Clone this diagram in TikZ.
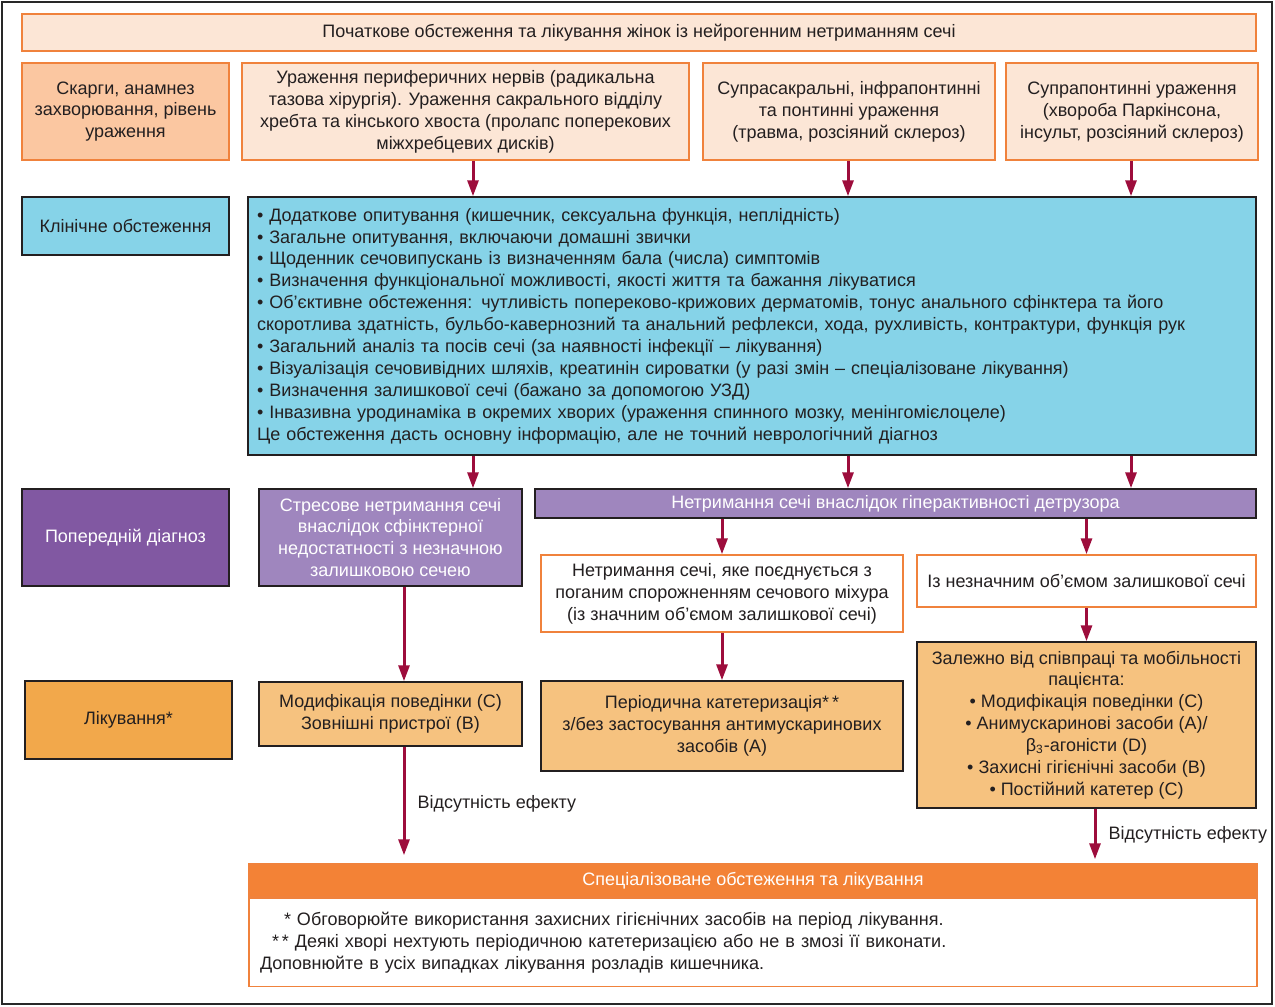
\documentclass[tikz,border=0pt]{standalone}
\usepackage{fontspec}
\setmainfont{Liberation Sans}
\usetikzlibrary{arrows.meta}
\definecolor{edgeorange}{RGB}{240,130,60}
\definecolor{peach}{RGB}{252,230,214}
\definecolor{salmon}{RGB}{251,199,161}
\definecolor{skyblue}{RGB}{134,211,232}
\definecolor{darkviolet}{RGB}{129,88,162}
\definecolor{lightviolet}{RGB}{159,134,190}
\definecolor{treatorange}{RGB}{242,168,75}
\definecolor{lightorange}{RGB}{246,194,127}
\definecolor{headorange}{RGB}{243,130,54}
\definecolor{arrowred}{RGB}{157,13,60}
\definecolor{inkgray}{RGB}{35,31,32}
\definecolor{framegray}{RGB}{40,40,40}

\begin{document}
\begin{tikzpicture}[x=0.5pt, y=-0.5pt,
  every node/.style={font=\fontsize{9}{10.95}\selectfont, text=inkgray},
  box/.style={draw=edgeorange, line width=0.75pt, fill=peach, align=center,
    inner sep=0pt},
  clin/.style={draw=inkgray, line width=0.75pt, fill=skyblue, align=center,
    inner sep=0pt},
  diag/.style={draw=inkgray, line width=0.75pt, fill=lightviolet, align=center,
    inner sep=0pt, text=white},
  treat/.style={draw=inkgray, line width=0.75pt, fill=lightorange, align=center,
    inner sep=0pt},
  arr/.style={-{Triangle[length=8pt, width=5.5pt]}, line width=1.5pt, arrowred},
  noeffect/.style={midway, anchor=west, inner sep=0pt, xshift=6pt, yshift=0.5pt},
]
  \useasboundingbox (0,0) rectangle (1275,1007);
  \draw[framegray, line width=1pt] (2,2) rectangle (1272,1004);

  \node[box, minimum width=617pt, minimum height=18.5pt] (title) at (639,32.5)
    {Початкове обстеження та лікування жінок із нейрогенним нетриманням сечі};

  \node[box, fill=salmon, minimum width=103.5pt, minimum height=48.5pt] (complaints) at (125.5,111.5)
    {Скарги, анамнез\\захворювання, рівень\\ураження};
  \node[box, minimum width=223.5pt, minimum height=48.5pt] (periph) at (465.5,111.5)
    {Ураження периферичних нервів (радикальна\\тазова хірургія). Ураження сакрального відділу\\хребта та кінського хвоста (пролапс поперекових\\міжхребцевих дисків)};
  \node[box, minimum width=146pt, minimum height=48.5pt] (suprasacral) at (849,111.5)
    {Супрасакральні, інфрапонтинні\\та понтинні ураження\\(травма, розсіяний склероз)};
  \node[box, minimum width=126pt, minimum height=48.5pt] (suprapontine) at (1132,111.5)
    {Супрапонтинні ураження\\(хвороба Паркінсона,\\інсульт, розсіяний склероз)};

  \node[clin, minimum width=103.5pt, minimum height=29pt] (clinlabel) at (125.5,226)
    {Клінічне обстеження};
  \node[clin, minimum width=504pt, minimum height=129pt, text width=495pt,
    align=left, inner xsep=4.5pt] (clinbox) at (752,326)
    {• Додаткове опитування (кишечник, сексуальна функція, неплідність)\\
     • Загальне опитування, включаючи домашні звички\\
     • Щоденник сечовипускань із визначенням бала (числа) симптомів\\
     • Визначення функціональної можливості, якості життя та бажання лікуватися\\
     • Об’єктивне обстеження: чутливість попереково-крижових дерматомів, тонус анального сфінктера та його\\
     скоротлива здатність, бульбо-кавернозний та анальний рефлекси, хода, рухливість, контрактури, функція рук\\
     • Загальний аналіз та посів сечі (за наявності інфекції – лікування)\\
     • Візуалізація сечовивідних шляхів, креатинін сироватки (у разі змін – спеціалізоване лікування)\\
     • Визначення залишкової сечі (бажано за допомогою УЗД)\\
     • Інвазивна уродинаміка в окремих хворих (ураження спинного мозку, менінгомієлоцеле)\\
     Це обстеження дасть основну інформацію, але не точний неврологічний діагноз};

  \node[diag, fill=darkviolet, minimum width=103.5pt, minimum height=48.5pt] (prelim) at (125.5,537.5)
    {Попередній діагноз};
  \node[diag, minimum width=131.5pt, minimum height=48.5pt] (stress) at (390.5,537.5)
    {Стресове нетримання сечі\\внаслідок сфінктерної\\недостатності з незначною\\залишковою сечею};
  \node[diag, minimum width=360.5pt, minimum height=14.5pt] (detrusor) at (895.5,503.5)
    {Нетримання сечі внаслідок гіперактивності детрузора};

  \node[box, fill=white, minimum width=181pt, minimum height=38.5pt] (poorempty) at (722,593.5)
    {Нетримання сечі, яке поєднується з\\поганим спорожненням сечового міхура\\(із значним об’ємом залишкової сечі)};
  \node[box, fill=white, minimum width=169.5pt, minimum height=26pt] (lowres) at (1086.5,581)
    {Із незначним об’ємом залишкової сечі};

  \node[treat, fill=treatorange, minimum width=103.5pt, minimum height=39pt] (treatlabel) at (128.5,720)
    {Лікування*};
  \node[treat, minimum width=131.5pt, minimum height=32pt] (behav) at (390.5,714)
    {Модифікація поведінки (C)\\Зовнішні пристрої (B)};
  \node[treat, minimum width=181pt, minimum height=45pt] (cathet) at (722,726)
    {Періодична катетеризація*\,*\\з/без застосування антимускаринових\\засобів (A)};
  \node[treat, minimum width=169.5pt, minimum height=83pt] (mobility) at (1086.5,725)
    {Залежно від співпраці та мобільності\\пацієнта:\\• Модифікація поведінки (C)\\• Анимускаринові засоби (A)/\\β\textsubscript{3}-агоністи (D)\\• Захисні гігієнічні засоби (B)\\• Постійний катетер (C)};

  \node[box, fill=headorange, text=white, minimum width=504pt, minimum height=16.5pt] (special) at (753,880.5)
    {Спеціалізоване обстеження та лікування};
  \node[box, fill=white, anchor=north, minimum width=504pt, minimum height=44pt,
    text width=493pt, align=left, inner xsep=5.5pt] (notes) at (special.south)
    {\hspace*{12pt}* Обговорюйте використання захисних гігієнічних засобів на період лікування.\\
     \hspace*{6pt}*\,* Деякі хворі нехтують періодичною катетеризацією або не в змозі її виконати.\\
     Доповнюйте в усіх випадках лікування розладів кишечника.};

  \coordinate (xa) at (473,0);
  \coordinate (xb) at (848,0);
  \coordinate (xc) at (1131,0);
  \coordinate (xd) at (404,0);
  \coordinate (xe) at (1095,0);

  \draw[arr] (periph.south -| xa) -- (clinbox.north -| xa);
  \draw[arr] (suprasacral.south -| xb) -- (clinbox.north -| xb);
  \draw[arr] (suprapontine.south -| xc) -- (clinbox.north -| xc);
  \draw[arr] (clinbox.south -| xa) -- (stress.north -| xa);
  \draw[arr] (clinbox.south -| xb) -- (detrusor.north -| xb);
  \draw[arr] (clinbox.south -| xc) -- (detrusor.north -| xc);
  \draw[arr] (detrusor.south -| poorempty.north) -- (poorempty.north);
  \draw[arr] (detrusor.south -| lowres.north) -- (lowres.north);
  \draw[arr] (stress.south -| xd) -- (behav.north -| xd);
  \draw[arr] (poorempty.south) -- (cathet.north);
  \draw[arr] (lowres.south) -- (mobility.north);
  \draw[arr, shorten >=4pt] (behav.south -| xd) -- (special.north -| xd)
    node[noeffect] {Відсутність ефекту};
  \draw[arr, shorten >=2pt] (mobility.south -| xe) -- (special.north -| xe)
    node[noeffect] {Відсутність ефекту};
\end{tikzpicture}
\end{document}
